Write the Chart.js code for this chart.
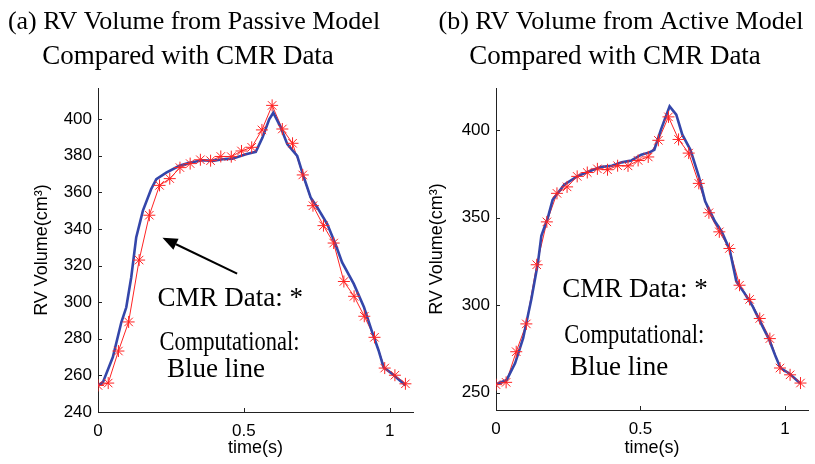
<!DOCTYPE html>
<html>
<head>
<meta charset="utf-8">
<script src="https://cdn.jsdelivr.net/npm/chart.js@4.4.1/dist/chart.umd.min.js"></script>
<style>
  html, body { margin: 0; padding: 0; background: #fff; }
  body { width: 815px; height: 464px; position: relative; overflow: hidden; }
  .panel { position: absolute; top: 0; }
  #panelA { left: 0; }
  #panelB { left: 400px; }
</style>
</head>
<body>
<div class="panel" id="panelA"><canvas id="chartA" width="420" height="464"></canvas></div>
<div class="panel" id="panelB"><canvas id="chartB" width="415" height="464"></canvas></div>
<script>
// CMR samples (same frames used in both panels)
const cmrTime = [0.000, 0.035, 0.070, 0.105, 0.141, 0.176, 0.211, 0.246, 0.281, 0.316,
  0.351, 0.386, 0.421, 0.457, 0.492, 0.527, 0.562, 0.597, 0.632, 0.667,
  0.702, 0.737, 0.773, 0.808, 0.843, 0.878, 0.913, 0.948, 0.983, 1.018, 1.054];
const cmrVolume = [254.5, 255.8, 273.3, 289.2, 323.0, 347.5, 363.8, 367.5, 373.5, 375.7,
  377.8, 377.3, 379.6, 379.5, 382.6, 384.6, 394.1, 407.5, 394.6, 386.8,
  369.5, 352.7, 341.8, 332.3, 311.3, 303.2, 292.3, 280.8, 264.0, 260.1, 255.4];

// computational curve, passive model
const passiveTime = [0.000, 0.017, 0.051, 0.080, 0.097, 0.114, 0.131, 0.154, 0.182, 0.200,
  0.234, 0.279, 0.313, 0.359, 0.393, 0.427, 0.461, 0.507, 0.541, 0.564,
  0.587, 0.601, 0.627, 0.649, 0.683, 0.706, 0.729, 0.752, 0.786, 0.814,
  0.837, 0.877, 0.912, 0.940, 0.962, 0.979, 1.008, 1.054];
const passiveVolume = [254.6, 256.3, 270.0, 289.0, 297.2, 313.6, 335.4, 350.0, 361.7, 367.2,
  370.8, 374.5, 376.2, 377.5, 377.2, 378.1, 378.4, 380.8, 382.1, 389.9,
  399.9, 403.5, 395.3, 386.3, 379.9, 368.1, 357.2, 351.7, 342.7, 331.8,
  321.7, 310.0, 297.2, 283.6, 273.6, 264.5, 260.9, 254.6];

// computational curve, active model
const activeTime = [0.003, 0.037, 0.066, 0.094, 0.123, 0.145, 0.157, 0.179, 0.196, 0.236,
  0.281, 0.321, 0.361, 0.401, 0.435, 0.469, 0.503, 0.531, 0.548, 0.571,
  0.601, 0.624, 0.645, 0.673, 0.702, 0.724, 0.758, 0.781, 0.809, 0.832,
  0.860, 0.889, 0.917, 0.946, 0.968, 0.985, 1.014, 1.053];
const activeVolume = [254.9, 257.2, 266.7, 281.0, 303.9, 323.9, 339.5, 349.7, 360.1, 368.7,
  373.5, 376.3, 378.8, 379.6, 381.5, 382.6, 385.9, 387.2, 388.7, 400.2,
  413.5, 408.8, 397.3, 388.7, 373.5, 359.2, 347.7, 342.0, 331.5, 313.4,
  306.8, 299.1, 289.6, 280.0, 270.5, 263.9, 261.0, 255.3];

const xTicks = [0, 0.5, 1];
const yTicksA = [240, 260, 280, 300, 320, 340, 360, 380, 400];
const yTicksB = [250, 300, 350, 400];

const RED = "rgb(255, 35, 35)";
const BLUE = "rgb(52, 70, 170)";
const SANS = "'Liberation Sans', Arial, sans-serif";
const SERIF = "'Liberation Serif', 'Times New Roman', serif";

const toPoints = (xs, ys) => xs.map((x, i) => ({ x: x, y: ys[i] }));

// titles, free text, arrow and MATLAB style inward ticks
const figText = {
  id: "figText",
  afterDraw(chart, args, opts) {
    const ctx = chart.ctx;
    const xs = chart.scales.x, ys = chart.scales.y;
    const area = chart.chartArea;
    ctx.save();
    ctx.strokeStyle = "#222";
    ctx.lineWidth = 1;
    ctx.beginPath();
    xs.ticks.forEach((t) => {
      const px = Math.round(xs.getPixelForValue(t.value)) + 0.5;
      ctx.moveTo(px, area.bottom);
      ctx.lineTo(px, area.bottom - 4);
    });
    ys.ticks.forEach((t) => {
      const py = Math.round(ys.getPixelForValue(t.value)) + 0.5;
      ctx.moveTo(area.left, py);
      ctx.lineTo(area.left + 4, py);
    });
    ctx.stroke();

    ctx.fillStyle = "#000";
    ctx.textBaseline = "middle";
    ctx.textAlign = "center";
    (opts.titles || []).forEach((t) => {
      ctx.font = t.size + "px " + SERIF;
      ctx.fillText(t.text, t.x, t.y);
    });

    ctx.textAlign = "left";
    (opts.notes || []).forEach((n) => {
      ctx.font = n.size + "px " + SERIF;
      const px = xs.getPixelForValue(n.t), py = ys.getPixelForValue(n.v);
      if (n.maxWidth) ctx.fillText(n.text, px, py, n.maxWidth);
      else ctx.fillText(n.text, px, py);
    });

    const a = opts.arrow;
    if (a) {
      const x1 = xs.getPixelForValue(a.from[0]), y1 = ys.getPixelForValue(a.from[1]);
      const x2 = xs.getPixelForValue(a.to[0]), y2 = ys.getPixelForValue(a.to[1]);
      const ang = Math.atan2(y2 - y1, x2 - x1);
      const hl = 15, hw = 6;
      ctx.strokeStyle = "#000";
      ctx.lineWidth = 2;
      ctx.beginPath();
      ctx.moveTo(x1, y1);
      ctx.lineTo(x2 - hl * Math.cos(ang), y2 - hl * Math.sin(ang));
      ctx.stroke();
      ctx.beginPath();
      ctx.moveTo(x2, y2);
      ctx.lineTo(x2 - hl * Math.cos(ang) + hw * Math.sin(ang), y2 - hl * Math.sin(ang) - hw * Math.cos(ang));
      ctx.lineTo(x2 - hl * Math.cos(ang) - hw * Math.sin(ang), y2 - hl * Math.sin(ang) + hw * Math.cos(ang));
      ctx.closePath();
      ctx.fill();
    }
    ctx.restore();
  },
};

function makePanel(id, p) {
  const cmr = toPoints(cmrTime, cmrVolume);
  return new Chart(document.getElementById(id), {
    type: "line",
    data: {
      datasets: [
        {
          // star markers on top
          data: cmr,
          showLine: false,
          pointStyle: "star",
          pointRadius: 6,
          borderColor: RED,
          backgroundColor: RED,
          pointBorderWidth: 1,
        },
        {
          data: toPoints(p.time, p.volume),
          borderColor: BLUE,
          borderWidth: 2.6,
          pointRadius: 0,
          fill: false,
          tension: 0,
        },
        {
          data: cmr,
          borderColor: RED,
          borderWidth: 1,
          pointRadius: 0,
          fill: false,
          tension: 0,
        },
      ],
    },
    options: {
      responsive: false,
      animation: false,
      layout: { padding: { left: p.padLeft, top: 88, right: p.padRight, bottom: 0 } },
      scales: {
        x: {
          type: "linear",
          min: 0,
          max: 1.08,
          afterBuildTicks: (s) => { s.ticks = xTicks.map((v) => ({ value: v })); },
          afterFit: (s) => { s.height = p.xHeight; },
          grid: { display: false, drawTicks: false },
          border: { display: true, color: "#222", width: 1 },
          ticks: { color: "#000", padding: 9, font: { family: SANS, size: 17 }, callback: (v) => String(v) },
          title: { display: true, text: "time(s)", color: "#000", font: { family: SANS, size: 18 }, padding: { top: 0, bottom: 5 } },
        },
        y: {
          type: "linear",
          min: p.yMin,
          max: p.yMax,
          afterBuildTicks: (s) => { s.ticks = p.yTicks.map((v) => ({ value: v })); },
          afterFit: (s) => { s.width = p.yWidth; },
          grid: { display: false, drawTicks: false },
          border: { display: true, color: "#222", width: 1 },
          ticks: { color: "#000", padding: 6, font: { family: SANS, size: 17 }, callback: (v) => String(v) },
          title: { display: true, text: "RV Volume(cm\u00B3)", color: "#000", font: { family: SANS, size: 18 }, padding: 0 },
        },
      },
      plugins: {
        legend: { display: false },
        tooltip: { enabled: false },
        figText: { titles: p.titles, notes: p.notes, arrow: p.arrow },
      },
    },
    plugins: [figText],
  });
}

makePanel("chartA", {
  time: passiveTime,
  volume: passiveVolume,
  yMin: 240, yMax: 417, yTicks: yTicksA,
  padLeft: 31, yWidth: 67, padRight: 6, xHeight: 52,
  titles: [
    { text: "(a) RV Volume from Passive Model", x: 194, y: 22, size: 26 },
    { text: "Compared with CMR Data", x: 188, y: 57, size: 27 },
  ],
  notes: [
    { text: "CMR Data: *", t: 0.204, v: 302, size: 27 },
    { text: "Computational:", t: 0.211, v: 278, size: 27, maxWidth: 140 },
    { text: " Blue line", t: 0.213, v: 263, size: 27 },
  ],
  arrow: { from: [0.477, 315.6], to: [0.221, 335.2] },
});

makePanel("chartB", {
  time: activeTime,
  volume: activeVolume,
  yMin: 240, yMax: 424, yTicks: yTicksB,
  padLeft: 26, yWidth: 70, padRight: 2, xHeight: 54,
  titles: [
    { text: "(b) RV Volume from Active Model", x: 221, y: 22, size: 26 },
    { text: "Compared with CMR Data", x: 215, y: 57, size: 27 },
  ],
  notes: [
    { text: "CMR Data: *", t: 0.229, v: 308.6, size: 27 },
    { text: "Computational:", t: 0.236, v: 282.5, size: 27, maxWidth: 140 },
    { text: "Blue line", t: 0.256, v: 264, size: 27 },
  ],
});
</script>
</body>
</html>
